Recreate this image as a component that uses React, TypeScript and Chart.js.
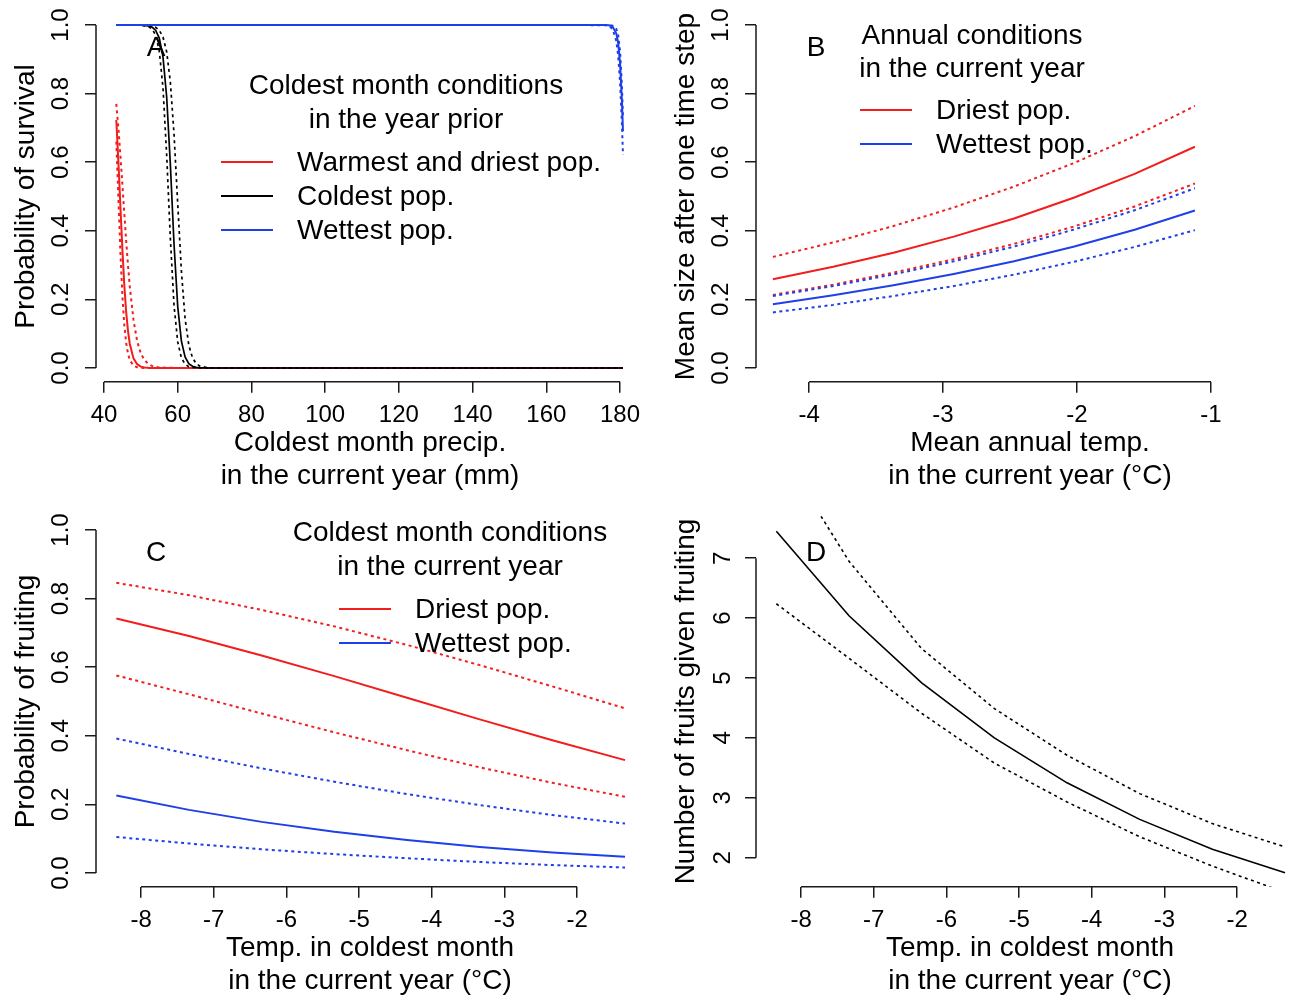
import React, { useEffect, useRef } from 'react';
import { Chart, registerables } from 'chart.js';

Chart.register(...registerables);

// ---------------- DATA ----------------
// Panel A: probability of survival vs coldest month precip (mm)
const precipRed = [43.34, 44, 44.5, 45, 45.5, 46, 46.5, 47, 48, 49, 50, 51, 52, 53, 55, 60, 180.8];
const survRedFit = [0.723, 0.579, 0.459, 0.343, 0.243, 0.165, 0.109, 0.07, 0.028, 0.011, 0.004, 0.0015, 0.0006, 0.0002, 0, 0, 0];
const survRedUpper = [0.77, 0.686, 0.612, 0.533, 0.452, 0.373, 0.301, 0.237, 0.14, 0.078, 0.042, 0.023, 0.012, 0.006, 0.0015, 0, 0];
const survRedLower = [0.66, 0.468, 0.325, 0.209, 0.127, 0.074, 0.042, 0.023, 0.007, 0.002, 0.0006, 0, 0, 0, 0, 0, 0];

const precipBlack = [43.34, 50, 52, 53, 54, 55, 56, 57, 58, 59, 60, 61, 62, 63, 64, 65, 66, 68, 70, 180.8];
const survBlackFit = [1, 0.9997, 0.9977, 0.9941, 0.9849, 0.962, 0.907, 0.791, 0.594, 0.361, 0.179, 0.078, 0.032, 0.0125, 0.0049, 0.0019, 0.0007, 0.0001, 0, 0];
const survBlackLower = [1, 0.9994, 0.9959, 0.989, 0.971, 0.924, 0.818, 0.622, 0.378, 0.182, 0.076, 0.029, 0.011, 0.004, 0.0015, 0.0006, 0.0002, 0, 0, 0];
const survBlackUpper = [1, 0.9998, 0.9988, 0.9972, 0.9934, 0.9847, 0.965, 0.922, 0.834, 0.682, 0.479, 0.282, 0.144, 0.067, 0.03, 0.013, 0.0055, 0.001, 0, 0];

const precipBlue = [43.34, 170, 176, 177, 178, 179, 179.5, 180, 180.5, 180.8];
const survBlueFit = [1, 1, 0.9998, 0.999, 0.995, 0.975, 0.947, 0.889, 0.782, 0.69];
const survBlueLower = [1, 0.9999, 0.9992, 0.997, 0.988, 0.953, 0.91, 0.834, 0.714, 0.621];
const survBlueUpper = [1, 1, 1, 0.9999, 0.998, 0.988, 0.97, 0.925, 0.827, 0.73];

// Panel B: mean size after one time step vs mean annual temp (°C)
const tempAnnual = [-4.27, -3.82, -3.37, -2.92, -2.47, -2.02, -1.57, -1.12];
const sizeRedFit = [0.259, 0.295, 0.336, 0.383, 0.436, 0.497, 0.566, 0.645];
const sizeRedUpper = [0.324, 0.366, 0.414, 0.468, 0.529, 0.598, 0.676, 0.764];
const sizeRedLower = [0.213, 0.243, 0.278, 0.317, 0.362, 0.413, 0.471, 0.538];
const sizeBlueUpper = [0.21, 0.239, 0.273, 0.311, 0.354, 0.404, 0.46, 0.524];
const sizeBlueFit = [0.186, 0.212, 0.241, 0.274, 0.311, 0.354, 0.403, 0.459];
const sizeBlueLower = [0.162, 0.184, 0.21, 0.239, 0.272, 0.31, 0.353, 0.402];

// Panel C: probability of fruiting vs temp in coldest month (°C)
const tempColdest = [-8.34, -7.34, -6.34, -5.34, -4.34, -3.34, -2.34, -1.34];
const fruitRedFit = [0.742, 0.691, 0.634, 0.574, 0.511, 0.448, 0.387, 0.329];
const fruitRedUpper = [0.846, 0.81, 0.767, 0.719, 0.665, 0.606, 0.544, 0.48];
const fruitRedLower = [0.576, 0.521, 0.465, 0.41, 0.358, 0.308, 0.263, 0.222];
const fruitBlueUpper = [0.392, 0.347, 0.305, 0.266, 0.23, 0.198, 0.169, 0.144];
const fruitBlueFit = [0.226, 0.184, 0.149, 0.12, 0.096, 0.076, 0.06, 0.047];
const fruitBlueLower = [0.105, 0.086, 0.069, 0.055, 0.043, 0.032, 0.023, 0.016];

// Panel D: number of fruits given fruiting vs temp in coldest month (°C)
const fruitsFit = [7.45, 6.04, 4.92, 4.0, 3.25, 2.64, 2.14, 1.75];
const fruitsUpper = [8.9, 6.95, 5.49, 4.49, 3.71, 3.07, 2.57, 2.18];
const fruitsLower = [6.24, 5.33, 4.41, 3.58, 2.93, 2.35, 1.86, 1.42];

// Tick values
const ticksPrecip = [40, 60, 80, 100, 120, 140, 160, 180];
const ticksAnnual = [-4, -3, -2, -1];
const ticksColdest = [-8, -7, -6, -5, -4, -3, -2];
const ticksProb = [0, 0.2, 0.4, 0.6, 0.8, 1.0];
const ticksFruits = [2, 3, 4, 5, 6, 7];

// ---------------- STYLE ----------------
const FONT = "'Liberation Sans', Arial, Helvetica, sans-serif";
const RED = '#f21d1d';
const BLUE = '#1f3fe8';
const BLACK = '#000000';
const AXIS = '#1a1a1a';
const CANVAS_W = 660;
const CANVAS_H = 495;
const TICK_FONT = 24;

const rAxisLines = {
  id: 'rAxisLines',
  afterDraw(chart: any) {
    const ctx = chart.ctx;
    const xs = chart.scales.x;
    const ys = chart.scales.y;
    const xt = xs.ticks;
    const yt = ys.ticks;
    ctx.save();
    ctx.strokeStyle = AXIS;
    ctx.lineWidth = 1.5;
    ctx.beginPath();
    ctx.moveTo(xs.getPixelForValue(xt[0].value), xs.top);
    ctx.lineTo(xs.getPixelForValue(xt[xt.length - 1].value), xs.top);
    ctx.moveTo(ys.right, ys.getPixelForValue(yt[0].value));
    ctx.lineTo(ys.right, ys.getPixelForValue(yt[yt.length - 1].value));
    ctx.stroke();
    ctx.restore();
  },
};

function series(xs: number[], ys: number[], color: string, dotted: boolean, order: number, width = 2) {
  return {
    data: xs.map((x, i) => ({ x, y: ys[i] })),
    borderColor: color,
    borderWidth: width,
    borderDash: dotted ? [3, 3.5] : [],
    pointRadius: 0,
    fill: false,
    tension: 0,
    order,
  };
}

type PanelSpec = {
  left: number;
  top: number;
  datasets: any[];
  xMin: number;
  xMax: number;
  xTicks: number[];
  xFmt: (v: number) => string;
  xTitle: string[];
  yMin: number;
  yMax: number;
  yTicks: number[];
  yFmt: (v: number) => string;
  yTitle: string;
  yTickPad: number;
};

function makeConfig(p: PanelSpec): any {
  const grid = {
    drawOnChartArea: false,
    drawTicks: true,
    tickLength: 11,
    color: AXIS,
    lineWidth: 1.5,
  };
  return {
    type: 'line',
    data: { datasets: p.datasets },
    options: {
      animation: false,
      responsive: false,
      devicePixelRatio: 1,
      layout: { autoPadding: false, padding: { left: 0, right: 16, top: 11.3, bottom: 0 } },
      plugins: { legend: { display: false }, tooltip: { enabled: false } },
      scales: {
        x: {
          type: 'linear',
          min: p.xMin,
          max: p.xMax,
          afterBuildTicks: (s: any) => {
            s.ticks = p.xTicks.map((v) => ({ value: v }));
          },
          afterFit: (s: any) => {
            s.height = CANVAS_H - 381.7;
            s.paddingLeft = 0;
            s.paddingRight = 0;
            s.paddingTop = 0;
            s.paddingBottom = 0;
          },
          grid,
          border: { display: false },
          ticks: {
            autoSkip: false,
            maxRotation: 0,
            minRotation: 0,
            padding: 8.4,
            color: '#000',
            font: { family: FONT, size: TICK_FONT },
            callback: (v: any) => p.xFmt(Number(v)),
          },
          title: {
            display: true,
            text: p.xTitle,
            color: '#000',
            font: { family: FONT, size: 28, lineHeight: 1.2 },
            padding: { top: 0, bottom: 1.6 },
          },
        },
        y: {
          type: 'linear',
          min: p.yMin,
          max: p.yMax,
          afterBuildTicks: (s: any) => {
            s.ticks = p.yTicks.map((v) => ({ value: v }));
          },
          afterFit: (s: any) => {
            s.width = 96;
            s.paddingLeft = 0;
            s.paddingRight = 0;
            s.paddingTop = 0;
            s.paddingBottom = 0;
          },
          grid,
          border: { display: false },
          ticks: {
            autoSkip: false,
            minRotation: 90,
            maxRotation: 90,
            crossAlign: 'center',
            padding: p.yTickPad,
            color: '#000',
            font: { family: FONT, size: TICK_FONT },
            callback: (v: any) => p.yFmt(Number(v)),
          },
          title: {
            display: true,
            text: p.yTitle,
            color: '#000',
            font: { family: FONT, size: 28, lineHeight: 1.2 },
            padding: { top: 9.5, bottom: 0 },
          },
        },
      },
    },
    plugins: [rAxisLines],
  };
}

const fmt1 = (v: number) => v.toFixed(1);
const fmt0 = (v: number) => String(Math.round(v));

const panels: PanelSpec[] = [
  {
    left: 0,
    top: 0,
    datasets: [
      series(precipBlue, survBlueFit, BLUE, false, 0),
      series(precipBlue, survBlueLower, BLUE, true, 1),
      series(precipBlue, survBlueUpper, BLUE, true, 1),
      series(precipBlack, survBlackFit, BLACK, false, 2, 1.7),
      series(precipBlack, survBlackLower, BLACK, true, 3, 1.7),
      series(precipBlack, survBlackUpper, BLACK, true, 3, 1.7),
      series(precipRed, survRedFit, RED, false, 4),
      series(precipRed, survRedLower, RED, true, 5),
      series(precipRed, survRedUpper, RED, true, 5),
    ],
    xMin: 37.83,
    xMax: 186.5,
    xTicks: ticksPrecip,
    xFmt: fmt0,
    xTitle: ['Coldest month precip.', 'in the current year (mm)'],
    yMin: -0.04,
    yMax: 1.04,
    yTicks: ticksProb,
    yFmt: fmt1,
    yTitle: 'Probability of survival',
    yTickPad: 7.3,
  },
  {
    left: 660,
    top: 0,
    datasets: [
      series(tempAnnual, sizeBlueFit, BLUE, false, 0),
      series(tempAnnual, sizeBlueUpper, BLUE, true, 1),
      series(tempAnnual, sizeBlueLower, BLUE, true, 1),
      series(tempAnnual, sizeRedFit, RED, false, 2),
      series(tempAnnual, sizeRedUpper, RED, true, 3),
      series(tempAnnual, sizeRedLower, RED, true, 3),
    ],
    xMin: -4.396,
    xMax: -0.306,
    xTicks: ticksAnnual,
    xFmt: fmt0,
    xTitle: ['Mean annual temp.', 'in the current year (°C)'],
    yMin: -0.04,
    yMax: 1.04,
    yTicks: ticksProb,
    yFmt: fmt1,
    yTitle: 'Mean size after one time step',
    yTickPad: 7.3,
  },
  {
    left: 0,
    top: 505,
    datasets: [
      series(tempColdest, fruitBlueFit, BLUE, false, 0),
      series(tempColdest, fruitBlueUpper, BLUE, true, 1),
      series(tempColdest, fruitBlueLower, BLUE, true, 1),
      series(tempColdest, fruitRedFit, RED, false, 2),
      series(tempColdest, fruitRedUpper, RED, true, 3),
      series(tempColdest, fruitRedLower, RED, true, 3),
    ],
    xMin: -8.62,
    xMax: -1.079,
    xTicks: ticksColdest,
    xFmt: fmt0,
    xTitle: ['Temp. in coldest month', 'in the current year (°C)'],
    yMin: -0.04,
    yMax: 1.04,
    yTicks: ticksProb,
    yFmt: fmt1,
    yTitle: 'Probability of fruiting',
    yTickPad: 7.3,
  },
  {
    left: 660,
    top: 505,
    datasets: [
      series(tempColdest, fruitsFit, BLACK, false, 0, 1.6),
      series(tempColdest, fruitsUpper, BLACK, true, 1, 1.6),
      series(tempColdest, fruitsLower, BLACK, true, 1, 1.6),
    ],
    xMin: -8.62,
    xMax: -1.079,
    xTicks: ticksColdest,
    xFmt: fmt0,
    xTitle: ['Temp. in coldest month', 'in the current year (°C)'],
    yMin: 1.516,
    yMax: 7.7,
    yTicks: ticksFruits,
    yFmt: fmt0,
    yTitle: 'Number of fruits given fruiting',
    yTickPad: 15.3,
  },
];

function Panel({ spec }: { spec: PanelSpec }) {
  const ref = useRef<HTMLCanvasElement | null>(null);
  useEffect(() => {
    if (!ref.current) return;
    const chart = new Chart(ref.current, makeConfig(spec));
    return () => chart.destroy();
  }, [spec]);
  return (
    <canvas
      ref={ref}
      width={CANVAS_W}
      height={CANVAS_H}
      style={{ position: 'absolute', left: spec.left, top: spec.top, width: CANVAS_W, height: CANVAS_H }}
    />
  );
}

type Txt = { text: string; x: number; y: number; center?: boolean };

const texts: Txt[] = [
  { text: 'A', x: 156, y: 47, center: true },
  { text: 'Coldest month conditions', x: 406, y: 85, center: true },
  { text: 'in the year prior', x: 406, y: 119, center: true },
  { text: 'Warmest and driest pop.', x: 297, y: 162 },
  { text: 'Coldest pop.', x: 297, y: 196 },
  { text: 'Wettest pop.', x: 297, y: 230 },
  { text: 'B', x: 816, y: 47, center: true },
  { text: 'Annual conditions', x: 972, y: 35, center: true },
  { text: 'in the current year', x: 972, y: 68, center: true },
  { text: 'Driest pop.', x: 936, y: 110 },
  { text: 'Wettest pop.', x: 936, y: 144 },
  { text: 'C', x: 156, y: 552, center: true },
  { text: 'Coldest month conditions', x: 450, y: 532, center: true },
  { text: 'in the current year', x: 450, y: 566, center: true },
  { text: 'Driest pop.', x: 415, y: 609 },
  { text: 'Wettest pop.', x: 415, y: 643 },
  { text: 'D', x: 816, y: 552, center: true },
];

const keyLines = [
  { x1: 221, x2: 273, y: 162, color: RED },
  { x1: 221, x2: 273, y: 196, color: BLACK },
  { x1: 221, x2: 273, y: 230, color: BLUE },
  { x1: 860, x2: 912, y: 110, color: RED },
  { x1: 860, x2: 912, y: 144, color: BLUE },
  { x1: 339, x2: 391, y: 609, color: RED },
  { x1: 339, x2: 391, y: 643, color: BLUE },
];

export default function App() {
  return (
    <div
      style={{
        position: 'absolute',
        left: 0,
        top: 0,
        width: 1291,
        height: 995,
        overflow: 'hidden',
        background: '#ffffff',
        fontFamily: FONT,
      }}
    >
      {panels.map((p, i) => (
        <Panel key={i} spec={p} />
      ))}
      {keyLines.map((l, i) => (
        <div
          key={'l' + i}
          style={{
            position: 'absolute',
            left: l.x1,
            top: l.y - 1,
            width: l.x2 - l.x1,
            height: 2,
            background: l.color,
          }}
        />
      ))}
      {texts.map((t, i) => (
        <div
          key={'t' + i}
          style={{
            position: 'absolute',
            left: t.x,
            top: t.y,
            transform: t.center ? 'translate(-50%, -50%)' : 'translateY(-50%)',
            fontSize: 28,
            lineHeight: '28px',
            whiteSpace: 'nowrap',
            color: '#000',
          }}
        >
          {t.text}
        </div>
      ))}
    </div>
  );
}
